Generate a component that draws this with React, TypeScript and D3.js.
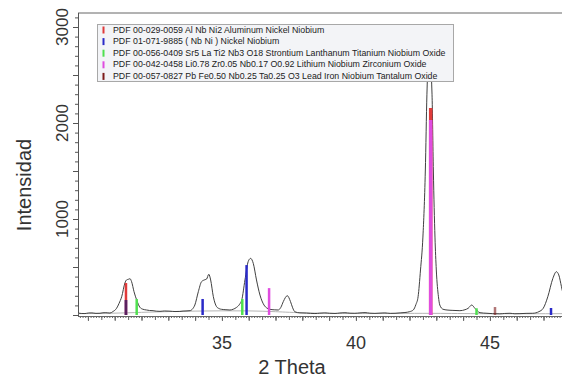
import React, { useRef, useEffect } from "react";
import * as d3 from "d3";

// measured pattern, [2theta, counts]
const pattern: [number, number][] = [
  [29.63, 20], [29.75, 16], [29.89, 15], [30.02, 21], [30.15, 22], [30.3, 17], [30.45, 18],
  [30.56, 23], [30.67, 24], [30.82, 20], [30.93, 35], [31.07, 70], [31.16, 120], [31.26, 190],
  [31.38, 333], [31.44, 365], [31.51, 372], [31.57, 378], [31.63, 347], [31.72, 243],
  [31.82, 156], [31.94, 80], [32.05, 60], [32.19, 52], [32.3, 47], [32.43, 45], [32.55, 40],
  [32.69, 38], [32.85, 42], [33.06, 40], [33.25, 36], [33.43, 37], [33.55, 41], [33.66, 42],
  [33.81, 45], [33.91, 65], [33.99, 104], [34.12, 243], [34.24, 347], [34.37, 368], [34.43, 375],
  [34.51, 424], [34.58, 365], [34.68, 191], [34.8, 87], [34.9, 66], [34.99, 59], [35.15, 55],
  [35.3, 52], [35.42, 60], [35.55, 80], [35.66, 112], [35.74, 156], [35.86, 365], [35.98, 556],
  [36.07, 590], [36.17, 538], [36.29, 365], [36.42, 208], [36.57, 104], [36.68, 72], [36.79, 59],
  [36.95, 54], [37.1, 52], [37.2, 80], [37.29, 139], [37.44, 201], [37.56, 139], [37.64, 75],
  [37.72, 34], [37.91, 22], [38.16, 20], [38.3, 17], [38.47, 15], [38.65, 19], [38.84, 22],
  [39.02, 18], [39.22, 16], [39.4, 21], [39.59, 24], [39.78, 19], [39.96, 18], [40.15, 22],
  [40.34, 25], [40.52, 19], [40.71, 17], [40.9, 20], [41.08, 22], [41.28, 17], [41.46, 18],
  [41.65, 22], [41.83, 26], [42.01, 35], [42.14, 52], [42.24, 110], [42.32, 190], [42.41, 469],
  [42.5, 812], [42.59, 1500], [42.65, 2300], [42.74, 2750], [42.84, 2300], [42.89, 1500],
  [42.95, 812], [43.0, 469], [43.08, 190], [43.13, 104], [43.25, 60], [43.4, 52], [43.62, 48],
  [43.88, 45], [44.07, 55], [44.19, 70], [44.32, 104], [44.44, 70], [44.63, 24], [44.89, 18],
  [45.1, 14], [45.37, 12], [45.55, 16], [45.75, 18], [45.93, 13], [46.12, 14], [46.35, 17],
  [46.6, 18], [46.83, 35], [46.99, 70], [47.16, 190], [47.35, 382], [47.48, 451], [47.57, 417],
  [47.67, 295], [47.72, 230],
];

const background: [number, number][] = [
  [29.63, 14], [31, 18], [32, 28], [33, 36], [34, 41], [35, 44], [36, 44], [37, 36],
  [38, 20], [40, 14], [42, 17], [43, 18], [45, 12], [47.72, 14],
];

const phases = [
  "PDF 00-029-0059 Al Nb Ni2 Aluminum Nickel Niobium",
  "PDF 01-071-9885 ( Nb Ni ) Nickel Niobium",
  "PDF 00-056-0409 Sr5 La Ti2 Nb3 O18 Strontium Lanthanum Titanium Niobium Oxide",
  "PDF 00-042-0458 Li0.78 Zr0.05 Nb0.17 O0.92 Lithium Niobium Zirconium Oxide",
  "PDF 00-057-0827 Pb Fe0.50 Nb0.25 Ta0.25 O3 Lead Iron Niobium Tantalum Oxide",
];
const phaseColors = ["#e03a3a", "#2a2ac8", "#4fe04f", "#e04ce0", "#7c1a1a"];

// reference sticks per phase, [2theta, counts]
const sticksAlNbNi2: [number, number][] = [[31.42, 333], [42.79, 2156]];
const sticksNbNi: [number, number][] = [[31.42, 156], [34.28, 167], [35.92, 520], [47.28, 73]];
const sticksSrLa: [number, number][] = [[31.82, 167], [35.76, 167], [44.5, 70]];
const sticksLiNb: [number, number][] = [[36.76, 280], [42.79, 2030]];
const sticksPbFe: [number, number][] = [[31.42, 156], [45.19, 83]];
const stickSets = [sticksAlNbNi2, sticksNbNi, sticksSrLa, sticksLiNb, sticksPbFe];

const xTickLabels = [35, 40, 45];
const yTickLabels = [1000, 2000, 3000];

const App = () => {
  const svgRef = useRef<SVGSVGElement>(null);

  useEffect(() => {
    const svg = d3.select(svgRef.current);
    svg.selectAll("*").remove();

    const left = 78, right = 562, top = 13, bottom = 315;
    const x = d3.scaleLinear().domain([29.63, 47.69]).range([left, right]);
    const y = d3.scaleLinear().domain([0, 3000]).range([bottom, 27]);
    const font = "'Liberation Sans', Arial, sans-serif";

    // frame
    svg.append("line").attr("x1", left).attr("x2", right).attr("y1", top).attr("y2", top)
      .attr("stroke", "#666").attr("stroke-width", 1);

    // y axis ticks
    const addAxisY = (vals: number[], size: number) => {
      const g = svg.append("g").attr("transform", `translate(${left},0)`)
        .call(d3.axisLeft(y).tickValues(vals).tickSize(size).tickFormat(() => ""));
      g.select(".domain").remove();
      g.selectAll("line").attr("stroke", "#555");
    };
    addAxisY(d3.range(0, 3101, 100), 3);
    addAxisY(d3.range(0, 3101, 500), 5);
    svg.append("line").attr("x1", left + 0.5).attr("x2", left + 0.5).attr("y1", top).attr("y2", bottom + 1)
      .attr("stroke", "#555");

    svg.selectAll(".ylab").data(yTickLabels).enter().append("text")
      .attr("transform", (d) => `translate(68,${y(d)}) rotate(-90)`)
      .attr("text-anchor", "middle").attr("font-family", font).attr("font-size", 17)
      .attr("fill", "#333").text((d) => d);

    // x axis ticks
    const addAxisX = (vals: number[], size: number) => {
      const g = svg.append("g").attr("transform", `translate(0,${bottom + 1})`)
        .call(d3.axisBottom(x).tickValues(vals).tickSize(size).tickFormat(() => ""));
      g.select(".domain").remove();
      g.selectAll("line").attr("stroke", "#666");
    };
    addAxisX(d3.range(297, 477).map((d) => d / 10), 2);
    addAxisX(d3.range(60, 95).map((d) => d / 2), 4);
    addAxisX(d3.range(30, 48), 5);
    svg.append("line").attr("x1", left).attr("x2", right).attr("y1", bottom + 1.5).attr("y2", bottom + 1.5)
      .attr("stroke", "#666");

    svg.selectAll(".xlab").data(xTickLabels).enter().append("text")
      .attr("x", (d) => x(d)).attr("y", 349)
      .attr("text-anchor", "middle").attr("font-family", font).attr("font-size", 18)
      .attr("fill", "#333").text((d) => d);

    svg.append("text").attr("x", 292).attr("y", 374).attr("text-anchor", "middle")
      .attr("font-family", font).attr("font-size", 20).attr("fill", "#333").text("2 Theta");
    svg.append("text").attr("transform", "translate(31,185) rotate(-90)").attr("text-anchor", "middle")
      .attr("font-family", font).attr("font-size", 20).attr("fill", "#333").text("Intensidad");

    const line = d3.line<[number, number]>().x((d) => x(d[0])).y((d) => y(d[1]));

    svg.append("path").attr("d", line.curve(d3.curveBasis)(background))
      .attr("fill", "none").attr("stroke", "#b5b5b5").attr("stroke-width", 1);

    svg.append("path").attr("d", d3.line<[number, number]>().x((d) => x(d[0])).y((d) => y(d[1]))
      .curve(d3.curveMonotoneX)(pattern))
      .attr("fill", "none").attr("stroke", "#404040").attr("stroke-width", 1);

    // sticks
    stickSets.forEach((set, i) => {
      svg.append("g").selectAll("line").data(set).enter().append("line")
        .attr("x1", (d) => x(d[0])).attr("x2", (d) => x(d[0]))
        .attr("y1", y(0)).attr("y2", (d) => y(d[1]))
        .attr("stroke", phaseColors[i])
        .attr("stroke-width", (d) => (d[1] > 1000 ? 3.5 : 2.5))
        .attr("opacity", i === 4 ? 0.6 : 1);
    });

    // legend
    const lg = svg.append("g");
    lg.append("rect").attr("x", 97.5).attr("y", 24.5).attr("width", 356).attr("height", 57)
      .attr("fill", "#f3f4f7").attr("stroke", "#a8a8a8");
    phases.forEach((p, i) => {
      const cy = 29.5 + i * 11.6;
      lg.append("rect").attr("x", 102.5).attr("y", cy - 3).attr("width", 2).attr("height", 7)
        .attr("fill", phaseColors[i]);
      lg.append("text").attr("x", 113).attr("y", cy + 3).attr("font-family", font)
        .attr("font-size", 8.8).attr("fill", "#222").text(p);
    });
  }, []);

  return (
    <div style={{ position: "absolute", left: 0, top: 0 }}>
      <svg ref={svgRef} width={562} height={379} style={{ display: "block", background: "#fff" }} />
    </div>
  );
};

export default App;
